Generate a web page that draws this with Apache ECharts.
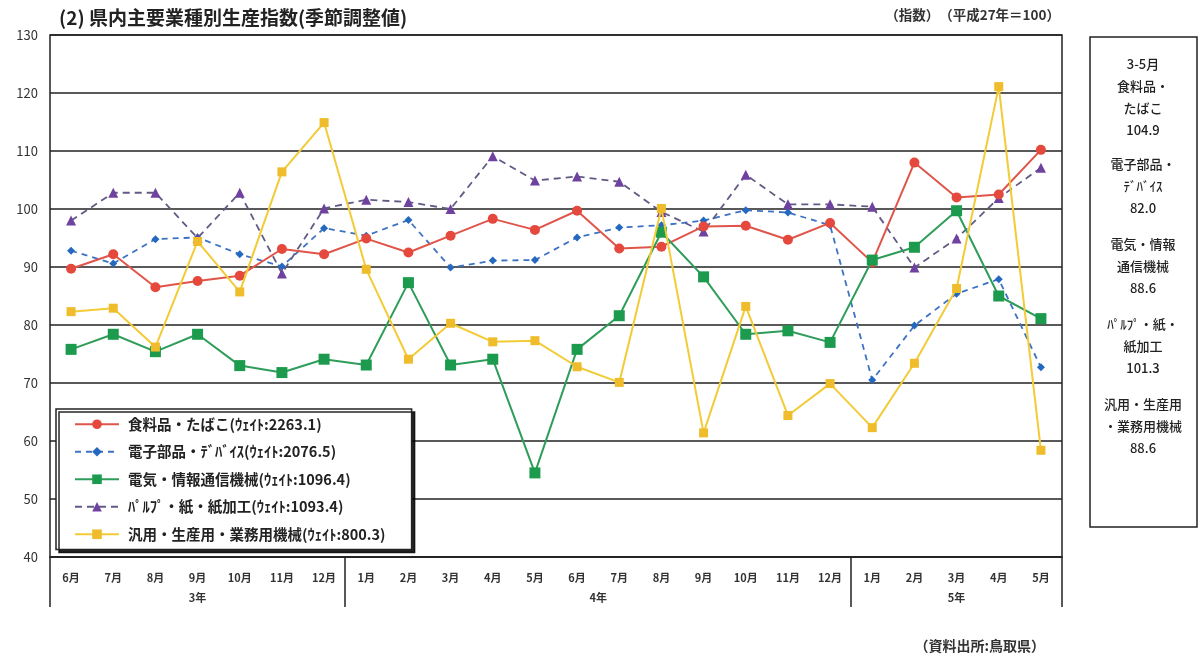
<!DOCTYPE html>
<html>
<head>
<meta charset="utf-8">
<script src="https://cdn.jsdelivr.net/npm/echarts@6/dist/echarts.min.js"></script>
<style>
  html, body { margin: 0; padding: 0; background: #fff; }
  #chart { width: 1202px; height: 659px; }
</style>
</head>
<body>
<div id="chart"></div>
<script>
// Months from 令和3年6月 to 令和5年5月
const months = ['6月','7月','8月','9月','10月','11月','12月',
                '1月','2月','3月','4月','5月','6月','7月','8月','9月','10月','11月','12月',
                '1月','2月','3月','4月','5月'];
const years = ['3年', '4年', '5年'];
const monthsPerYear = [7, 12, 5];

const yTicks = [40, 130, 10]; // min, max, step

const food = [89.7, 92.2, 86.5, 87.6, 88.5, 93.1, 92.2, 94.9, 92.5, 95.4, 98.3, 96.4,
              99.7, 93.2, 93.5, 97.0, 97.1, 94.7, 97.6, 90.8, 108.0, 102.0, 102.5, 110.2];
const devices = [92.8, 90.6, 94.8, 95.1, 92.2, 90.1, 96.7, 95.4, 98.1, 89.9, 91.1, 91.2,
                 95.1, 96.8, 97.2, 98.0, 99.8, 99.4, 97.2, 70.5, 79.9, 85.4, 87.9, 72.7];
const electric = [75.8, 78.4, 75.4, 78.4, 73.0, 71.8, 74.1, 73.1, 87.3, 73.1, 74.1, 54.5,
                  75.8, 81.6, 96.0, 88.3, 78.4, 79.0, 77.0, 91.2, 93.4, 99.7, 85.0, 81.1];
const pulp = [98.0, 102.8, 102.8, 95.0, 102.8, 88.9, 100.1, 101.6, 101.2, 100.0, 109.1, 104.9,
              105.6, 104.7, 99.5, 96.1, 105.9, 100.8, 100.8, 100.4, 89.9, 94.9, 101.9, 107.1];
const machinery = [82.3, 82.9, 76.2, 94.4, 85.7, 106.4, 114.9, 89.6, 74.1, 80.3, 77.1, 77.3,
                   72.8, 70.1, 100.1, 61.4, 83.2, 64.4, 69.9, 62.3, 73.4, 86.3, 121.1, 58.4];

const seriesNames = ['食料品・たばこ(ｳｪｲﾄ:2263.1)', '電子部品・ﾃﾞﾊﾞｲｽ(ｳｪｲﾄ:2076.5)',
                     '電気・情報通信機械(ｳｪｲﾄ:1096.4)', 'ﾊﾟﾙﾌﾟ・紙・紙加工(ｳｪｲﾄ:1093.4)',
                     '汎用・生産用・業務用機械(ｳｪｲﾄ:800.3)'];
const boxTitle = '3-5月';
const boxLabels = ['食料品・\nたばこ', '電子部品・\nﾃﾞﾊﾞｲｽ', '電気・情報\n通信機械',
                   'ﾊﾟﾙﾌﾟ・紙・\n紙加工', '汎用・生産用\n・業務用機械'];

// Average of the last three months for the side panel
function lastThreeAvg(arr) {
  const s = arr.slice(-3).reduce((a, b) => a + b, 0);
  return (Math.round(s / 3 * 10) / 10).toFixed(1);
}

// Centre and boundary positions of each year group along the month axis
const yearCenters = [], yearBounds = [-0.5];
let start = 0;
monthsPerYear.forEach(n => {
  yearCenters.push(start + (n - 1) / 2);
  start += n;
  yearBounds.push(start - 0.5);
});

const FONT = '"Noto Sans CJK JP", "Noto Sans", sans-serif';

const chart = echarts.init(document.getElementById('chart'));

const allData = [food, devices, electric, pulp, machinery];
const styles = [
  { color: '#e5483c', line: '#e0554a', symbol: 'circle', size: 10, type: 'solid', width: 2, z: 3 },
  { color: '#2468c0', line: '#3c72c2', symbol: 'diamond', size: 8, type: [6, 5], width: 1.8, z: 2 },
  { color: '#1c9a4e', line: '#2f9d5a', symbol: 'rect', size: 11, type: 'solid', width: 2, z: 4 },
  { color: '#7042a0', line: '#615a85', symbol: 'triangle', size: 10, type: [7, 5], width: 1.8, z: 2 },
  { color: '#efbc2c', line: '#f2cb36', symbol: 'rect', size: 9, type: 'solid', width: 2, z: 5 }
];

const series = allData.map((d, i) => ({
  name: seriesNames[i],
  type: 'line',
  data: d,
  z: styles[i].z,
  symbol: styles[i].symbol,
  symbolSize: styles[i].size,
  itemStyle: { color: styles[i].color },
  lineStyle: { color: styles[i].line, width: styles[i].width, type: styles[i].type },
  emphasis: { disabled: true },
  animation: false
}));

// Side panel text blocks
const boxGraphics = [
  { type: 'rect', shape: { x: 1090, y: 37, width: 107, height: 490 },
    style: { fill: '#fff', stroke: '#222', lineWidth: 1.5 } },
  { type: 'text', x: 1143, y: 53,
    style: { text: boxTitle + '\n' + boxLabels[0] + '\n' + lastThreeAvg(allData[0]),
             font: '500 13px ' + FONT, fill: '#222', textAlign: 'center', lineHeight: 22 } }
];
for (let i = 1; i < boxLabels.length; i++) {
  boxGraphics.push({
    type: 'text', x: 1143, y: 153 + (i - 1) * 80,
    style: { text: boxLabels[i] + '\n' + lastThreeAvg(allData[i]),
             font: '500 13px ' + FONT, fill: '#222', textAlign: 'center', lineHeight: 22 }
  });
}

chart.setOption({
  backgroundColor: '#fff',
  animation: false,
  textStyle: { fontFamily: FONT },
  title: {
    text: '(2) 県内主要業種別生産指数(季節調整値)',
    left: 54, top: 3,
    textStyle: { fontSize: 19, fontWeight: 'bold', color: '#222', fontFamily: FONT }
  },
  grid: {
    left: 50, right: 140, top: 35, bottom: 102,
    show: true, borderColor: '#222', borderWidth: 1.5, backgroundColor: 'transparent'
  },
  legend: {
    orient: 'vertical',
    left: 56, top: 409,
    data: seriesNames,
    itemWidth: 44, itemHeight: 12, itemGap: 13,
    padding: [8, 26, 8, 18],
    backgroundColor: '#fff',
    borderColor: '#222', borderWidth: 1.5,
    shadowColor: 'rgba(0,0,0,0.85)', shadowOffsetX: 3, shadowOffsetY: 3, shadowBlur: 0,
    textStyle: { fontSize: 14.5, fontWeight: 'bold', color: '#222', fontFamily: FONT,
                 padding: [0, 0, 0, 4] }
  },
  xAxis: [
    {
      type: 'category', data: months, boundaryGap: true,
      axisLine: { show: true, lineStyle: { color: '#222', width: 1.5 } },
      axisTick: { show: false },
      axisLabel: { fontSize: 11, fontWeight: 'bold', color: '#333', margin: 15, interval: 0 },
      splitLine: { show: false }
    },
    {
      type: 'value', min: -0.5, max: months.length - 0.5, position: 'bottom',
      axisLine: { show: false },
      splitLine: { show: false },
      axisTick: { show: true, customValues: yearBounds, length: 50,
                  lineStyle: { color: '#222', width: 1.5 } },
      axisLabel: {
        customValues: yearCenters, margin: 35, fontSize: 11, fontWeight: 'bold', color: '#333',
        formatter: v => years[yearCenters.indexOf(v)] || ''
      }
    }
  ],
  yAxis: {
    type: 'value', min: yTicks[0], max: yTicks[1], interval: yTicks[2],
    axisLine: { show: false }, axisTick: { show: false },
    axisLabel: { fontSize: 13, color: '#333', margin: 12 },
    splitLine: { show: true, lineStyle: { color: '#222', width: 1.5 } }
  },
  series: series,
  graphic: [
    { type: 'text', right: 142, top: 8,
      style: { text: '（指数）　（平成27年＝100）', font: 'bold 13.5px ' + FONT, fill: '#333' } },
    { type: 'text', right: 157, top: 639,
      style: { text: '（資料出所:鳥取県）', font: 'bold 14px ' + FONT, fill: '#333' } }
  ].concat(boxGraphics)
});
</script>
</body>
</html>
